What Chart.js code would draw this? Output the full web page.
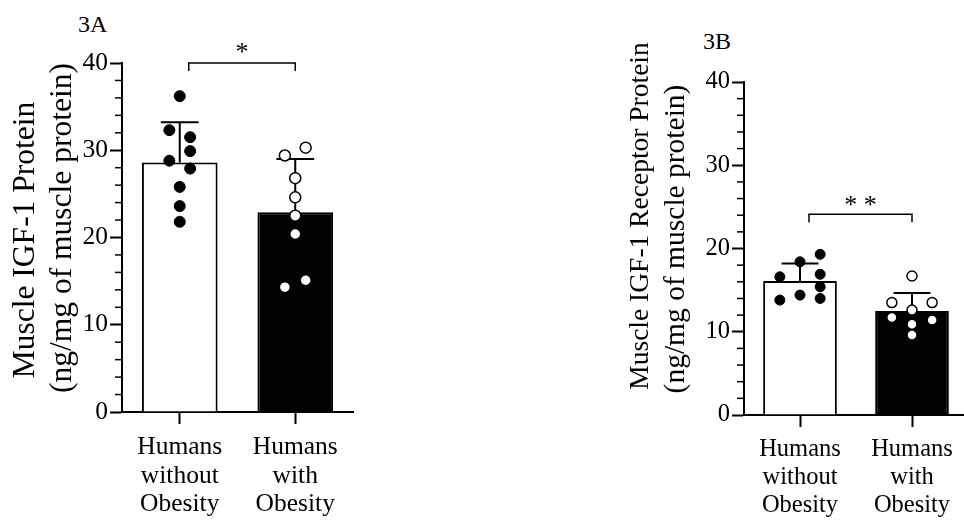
<!DOCTYPE html>
<html lang="en">
<head>
  <meta charset="UTF-8" />
  <title>Muscle IGF-1 and IGF-1 receptor</title>
  <script src="https://cdn.jsdelivr.net/npm/chart.js"></script>
  <style>
    html, body { margin: 0; padding: 0; background: #fff; overflow: hidden; width: 964px; height: 523px; position: relative; }
    canvas { position: absolute; top: 0; }
    #chartA { left: 0; }
    #chartB { left: 600px; }
    .tag { position: absolute; font: 24px "Liberation Serif", serif; color: #000; line-height: 1; }
  </style>
</head>
<body>
  <div class="tag" style="left:78px; top:12px">3A</div>
  <div class="tag" style="left:703px; top:29px">3B</div>
  <canvas id="chartA" width="370" height="523"></canvas>
  <canvas id="chartB" width="380" height="523"></canvas>

  <script>
    const groups = [['Humans', 'without', 'Obesity'], ['Humans', 'with', 'Obesity']];

    // 3A: muscle IGF-1 protein
    const meanA = [28.6, 22.9];
    const sdA = [4.6, 6.1];
    const dotsA_lean = [36.2, 32.3, 31.5, 29.9, 28.8, 27.9, 25.8, 23.6, 21.8];
    const colsA_lean = [0, -1, 1, 1, -1, 1, 0, 0, 0];
    const dotsA_obese = [30.3, 29.4, 26.8, 24.6, 22.5, 20.4, 15.1, 14.3];
    const colsA_obese = [1, -1, 0, 0, 0, 0, 1, -1];

    // 3B: muscle IGF-1 receptor protein
    const meanB = [16.1, 12.5];
    const sdB = [2.1, 2.15];
    const dotsB_lean = [19.3, 18.4, 16.9, 16.6, 15.4, 14.4, 14.0, 13.8];
    const colsB_lean = [1, 0, 1, -1, 1, 0, 1, -1];
    const dotsB_obese = [16.7, 13.5, 13.5, 12.6, 11.7, 11.4, 10.9, 9.6];
    const colsB_obese = [0, -1, 1, 0, -1, 1, 0, 0];

    const yTicks = [0, 10, 20, 30, 40];

    const serif = '"Liberation Serif", "Times New Roman", serif';

    // error bars, minor ticks, significance bracket, axis title
    const extras = {
      id: 'extras',
      afterDatasetDraw(chart, args, opts) {
        if (args.meta.type !== 'bar') return;
        const ctx = chart.ctx;
        const y = chart.scales.y;
        const values = chart.data.datasets[args.index].data;
        ctx.save();
        ctx.strokeStyle = '#000';
        ctx.lineWidth = 2;
        args.meta.data.forEach((bar, i) => {
          const top = y.getPixelForValue(values[i] + opts.sd[i]);
          const half = bar.width / 4;
          ctx.beginPath();
          ctx.moveTo(bar.x, bar.y);
          ctx.lineTo(bar.x, top);
          ctx.moveTo(bar.x - half, top);
          ctx.lineTo(bar.x + half, top);
          ctx.stroke();
        });
        ctx.restore();
      },
      afterDraw(chart, args, opts) {
        const ctx = chart.ctx;
        const x = chart.scales.x;
        const y = chart.scales.y;
        const left = chart.chartArea.left;
        ctx.save();
        ctx.strokeStyle = '#000';
        ctx.lineWidth = 1.5;
        for (let v = y.min; v <= y.max; v += 2) {
          if (v % 10 === 0) continue;
          const py = y.getPixelForValue(v);
          ctx.beginPath();
          ctx.moveTo(left - 7, py);
          ctx.lineTo(left, py);
          ctx.stroke();
        }

        const yb = y.getPixelForValue(opts.level);
        const xl = x.getPixelForValue(0) + 9;
        const xr = x.getPixelForValue(1);
        ctx.beginPath();
        ctx.moveTo(xl, yb + 8);
        ctx.lineTo(xl, yb);
        ctx.lineTo(xr, yb);
        ctx.lineTo(xr, yb + 8);
        ctx.stroke();

        ctx.fillStyle = '#000';
        ctx.font = '26px ' + serif;
        ctx.textAlign = 'center';
        ctx.textBaseline = 'middle';
        ctx.fillText(opts.text, (xl + xr) / 2, yb - opts.lift);

        // rotated y title, one font size per line
        opts.title.forEach(t => {
          ctx.save();
          ctx.translate(t.x, t.y);
          ctx.rotate(-Math.PI / 2);
          ctx.font = t.size + 'px ' + serif;
          ctx.fillText(t.text, 0, 0);
          ctx.restore();
        });
        ctx.restore();
      }
    };

    function dots(values, cols, group, step) {
      return values.map((v, i) => ({ x: group + cols[i] * step, y: v }));
    }

    function buildChart(id, p) {
      const font = { family: serif, size: p.fs, lineHeight: p.lh };
      new Chart(document.getElementById(id), {
        type: 'bar',
        data: {
          labels: groups,
          datasets: [
            {
              data: p.mean,
              backgroundColor: ['#fff', '#000'],
              borderColor: '#000',
              borderWidth: 2,
              grouped: false,
              barPercentage: p.bp,
              categoryPercentage: 1,
              order: 1
            },
            {
              type: 'scatter',
              xAxisID: 'xj',
              data: dots(p.lean, p.leanCols, 0, p.step),
              pointRadius: p.r,
              pointBackgroundColor: '#000',
              pointBorderColor: '#000',
              pointBorderWidth: 1,
              order: 0
            },
            {
              type: 'scatter',
              xAxisID: 'xj',
              data: dots(p.obese, p.obeseCols, 1, p.step),
              pointRadius: p.r,
              pointBackgroundColor: '#fff',
              pointBorderColor: '#000',
              pointBorderWidth: 1.5,
              order: 0
            }
          ]
        },
        options: {
          responsive: false,
          animation: false,
          layout: { padding: { top: p.top, right: p.right, left: 0, bottom: 0 } },
          plugins: {
            legend: { display: false },
            tooltip: { enabled: false },
            extras: { sd: p.sd, level: p.level, text: p.star, lift: p.lift, title: p.title }
          },
          scales: {
            x: {
              offset: true,
              grid: { drawOnChartArea: false, offset: false, tickLength: 12, tickWidth: 2, tickColor: '#000' },
              border: { color: '#000', width: 2 },
              ticks: { color: '#000', font: font, padding: 9, maxRotation: 0, autoSkip: false },
              afterFit: s => { s.height = p.xh; }
            },
            xj: { type: 'linear', display: false, offset: false, min: -0.5, max: 1.5 },
            y: {
              min: 0,
              max: 40,
              afterBuildTicks: s => { s.ticks = yTicks.map(v => ({ value: v })); },
              grid: { drawOnChartArea: false, tickLength: 12, tickWidth: 2, tickColor: '#000' },
              border: { color: '#000', width: 2 },
              ticks: { color: '#000', font: font, padding: 2 },
              afterFit: s => { s.width = p.yw; }
            }
          }
        },
        plugins: [extras]
      });
    }

    buildChart('chartA', {
      mean: meanA, sd: sdA,
      lean: dotsA_lean, leanCols: colsA_lean,
      obese: dotsA_obese, obeseCols: colsA_obese,
      step: 0.09, r: 5.5, bp: 0.655, fs: 25.5, lh: 1.125,
      top: 63, right: 17, xh: 111, yw: 122,
      title: [
        { text: 'Muscle IGF-1 Protein', size: 31.5, x: 26, y: 240 },
        { text: '(ng/mg of muscle protein)', size: 31.5, x: 62.5, y: 228 }
      ],
      level: 40, star: '*', lift: 10
    });

    buildChart('chartB', {
      mean: meanB, sd: sdB,
      lean: dotsB_lean, leanCols: colsB_lean,
      obese: dotsB_obese, obeseCols: colsB_obese,
      step: 0.18, r: 5, bp: 0.658, fs: 24.5, lh: 1.14,
      top: 82, right: 12, xh: 108, yw: 144,
      title: [
        { text: 'Muscle IGF-1 Receptor Protein', size: 27.5, x: 41, y: 216 },
        { text: '(ng/mg of muscle protein)', size: 29.5, x: 76, y: 239 }
      ],
      level: 24.1, star: '* *', lift: 8
    });
  </script>
</body>
</html>
